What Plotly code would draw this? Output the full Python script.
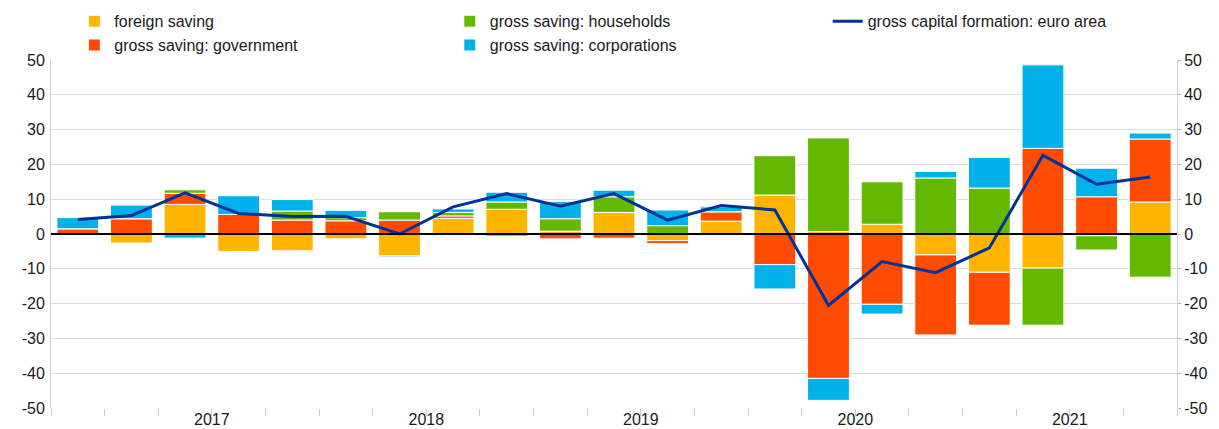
import plotly.graph_objects as go

quarters = ["2016Q4",
            "2017Q1", "2017Q2", "2017Q3", "2017Q4",
            "2018Q1", "2018Q2", "2018Q3", "2018Q4",
            "2019Q1", "2019Q2", "2019Q3", "2019Q4",
            "2020Q1", "2020Q2", "2020Q3", "2020Q4",
            "2021Q1", "2021Q2", "2021Q3", "2021Q4"]

foreign_saving = [0, -2.6, 8.5, -5.0, -4.8, -1.4, -6.3, 4.5, 7.1, 0.8, 6.2,
                  -1.9, 3.7, 11.2, 0.7, 2.8, -6.0, -11.0, -9.8, -0.5, 9.2]
gov_saving = [1.5, 4.4, 3.2, 5.6, 4.0, 3.8, 4.0, 0.7, -0.6, -1.4, -1.2,
              -0.9, 2.7, -8.8, -41.5, -20.2, -23.0, -15.2, 24.6, 10.7, 18.1]
hh_saving = [0, 0, 1.0, 0, 2.6, 0.9, 2.4, 1.0, 2.1, 3.6, 4.5,
             2.4, 0, 11.3, 26.9, 12.2, 16.1, 13.2, -16.4, -4.1, -12.4]
corp_saving = [3.2, 3.9, -1.2, 5.4, 3.3, 2.1, -0.3, 1.0, 2.8, 4.9, 1.9,
               4.5, 1.4, -7.0, -6.3, -2.8, 1.9, 8.8, 24.0, 8.2, 1.7]
gcf_euro_area = [4.2, 5.3, 11.8, 5.9, 5.0, 5.1, 0.0, 7.8, 11.6, 8.0, 11.6,
                 4.0, 8.2, 6.9, -20.5, -7.9, -11.1, -4.0, 22.6, 14.3, 16.4]

y_ticks = list(range(-50, 51, 10))
y_ticktext = [str(v) for v in y_ticks]  # plain hyphen like the original

x = list(range(len(quarters)))

# ticks sit between quarters, year label on the tick in the middle of each full year
years = sorted(set(q[:4] for q in quarters))
year_mid = {}
for y in years:
    idx = [i for i, q in enumerate(quarters) if q.startswith(y)]
    if len(idx) == 4:
        year_mid[sum(idx) / 4] = y
tickvals = [i - 0.5 for i in range(len(quarters) + 1)]
ticktext = [year_mid.get(t, "") for t in tickvals]

FONT = "Liberation Sans, Arial, sans-serif"

fig = go.Figure()

bars = [
    ("foreign saving", foreign_saving, "#FFB400", "legend", 1),
    ("gross saving: government", gov_saving, "#FF4B00", "legend", 2),
    ("gross saving: households", hh_saving, "#65B800", "legend2", 1),
    ("gross saving: corporations", corp_saving, "#00B1EA", "legend2", 2),
]
for name, vals, col, leg, rank in bars:
    fig.add_trace(go.Bar(x=x, y=vals, name=name, marker_color=col,
                         marker_line=dict(color="white", width=1),
                         legend=leg, legendrank=rank))

fig.add_trace(go.Scatter(x=x, y=gcf_euro_area, name="gross capital formation: euro area",
                         mode="lines", line=dict(color="#003299", width=3),
                         legend="legend3", yaxis="y2"))

yr = [-50, 50]
leg_style = dict(yref="container", xref="container", y=0.99,
                 xanchor="left", yanchor="top", bgcolor="rgba(0,0,0,0)",
                 font=dict(size=16), tracegroupgap=0)
fig.update_layout(
    width=1219, height=429,
    margin=dict(l=51, r=42, t=60, b=21, autoexpand=False),
    barmode="relative", bargap=0.22,
    plot_bgcolor="white", paper_bgcolor="white",
    font=dict(family=FONT, size=16, color="#1a1a1a"),
    xaxis=dict(range=[-0.5, len(quarters) - 0.5], tickmode="array",
               tickvals=tickvals, ticktext=ticktext, ticks="outside",
               ticklen=7, tickcolor="#cccccc", showgrid=False, tickangle=0,
               showline=False, zeroline=False, ticklabelstandoff=-10),
    yaxis=dict(range=yr, tickmode="array", tickvals=y_ticks, ticktext=y_ticktext,
               showgrid=True, gridcolor="#dcdcdc",
               zeroline=False, showline=True, linecolor="#d0d0d0",
               ticks="", ticklabelstandoff=2),
    yaxis2=dict(range=yr, tickmode="array", tickvals=y_ticks, ticktext=y_ticktext,
                overlaying="y", side="right",
                showgrid=False, zeroline=False, showline=True,
                linecolor="#d0d0d0", ticks="outside", ticklen=3,
                tickcolor="#b0b0b0"),
    legend=dict(x=0.061, **leg_style),
    legend2=dict(x=0.369, **leg_style),
    legend3=dict(x=0.679, **leg_style),
    shapes=[dict(type="line", xref="paper", yref="y", x0=0, x1=1, y0=0, y1=0,
                 line=dict(color="black", width=2), layer="above")],
)

# drop the default 8px page margin so the figure fills the window exactly
fig.write_html("out.html", config={"displayModeBar": False},
               post_script="document.body.style.margin='0';")
